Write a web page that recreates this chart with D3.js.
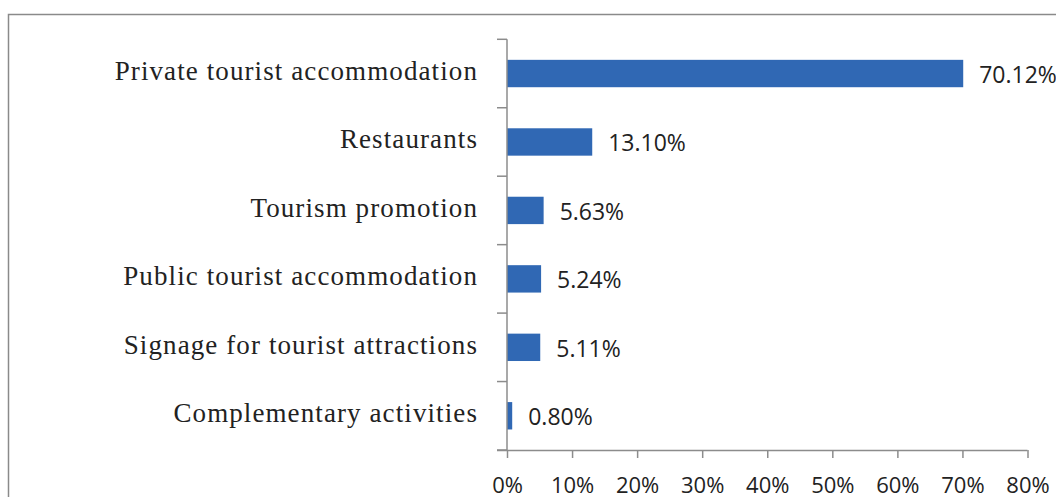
<!DOCTYPE html>
<html>
<head>
<meta charset="utf-8">
<script src="https://cdn.jsdelivr.net/npm/d3@7"></script>
<style>
  html, body { margin: 0; padding: 0; background: #fff; }
  svg { display: block; }
</style>
</head>
<body>
<svg id="chart" width="1056" height="497"></svg>
<script>
// Share of funds by type of tourism investment
const categories = [
  "Private tourist accommodation",
  "Restaurants",
  "Tourism promotion",
  "Public tourist accommodation",
  "Signage for tourist attractions",
  "Complementary activities"
];
const shares = [70.12, 13.10, 5.63, 5.24, 5.11, 0.80];
const valueLabels = ["70.12%", "13.10%", "5.63%", "5.24%", "5.11%", "0.80%"];
const xTicks = [0, 10, 20, 30, 40, 50, 60, 70, 80];

const svg = d3.select("#chart");
const axisColor = "#8c8c8c";
const barColor = "#3068b4";

// frame around the chart area
svg.append("rect")
  .attr("x", 8.5).attr("y", 14.5)
  .attr("width", 1100).attr("height", 600)
  .attr("fill", "none")
  .attr("stroke", "#8a8a8a")
  .attr("stroke-width", 1.5);

const plot = { left: 507, right: 1027.5, top: 39.3, bottom: 450 };

const x = d3.scaleLinear().domain([0, 80]).range([plot.left, plot.right]);
const y = d3.scaleBand().domain(categories).range([plot.top, plot.bottom])
  .paddingInner(0.6).paddingOuter(0.3);

const bandStep = y.step();

// bars
svg.append("g").selectAll("rect")
  .data(categories)
  .join("rect")
  .attr("x", x(0))
  .attr("y", d => y(d))
  .attr("width", (d, i) => x(shares[i]) - x(0))
  .attr("height", y.bandwidth())
  .attr("fill", barColor);

// vertical category axis with ticks on band boundaries
const yAxis = svg.append("g");
yAxis.append("line")
  .attr("x1", plot.left).attr("x2", plot.left)
  .attr("y1", plot.top).attr("y2", plot.bottom)
  .attr("stroke", axisColor).attr("stroke-width", 1.5);
yAxis.selectAll("line.tick")
  .data(d3.range(categories.length + 1))
  .join("line")
  .attr("class", "tick")
  .attr("x1", plot.left - 10).attr("x2", plot.left)
  .attr("y1", i => plot.top + i * bandStep)
  .attr("y2", i => plot.top + i * bandStep)
  .attr("stroke", axisColor).attr("stroke-width", 1.5);

// category labels
svg.append("g").selectAll("text")
  .data(categories)
  .join("text")
  .attr("x", 478)
  .attr("y", d => y(d) + y.bandwidth() / 2 + 6.5)
  .attr("text-anchor", "end")
  .attr("font-family", "'Liberation Serif', serif")
  .attr("font-size", 27)
  .attr("letter-spacing", "1.1px")
  .attr("fill", "#222")
  .text(d => d);

// value labels
svg.append("g").selectAll("text")
  .data(categories)
  .join("text")
  .attr("x", (d, i) => x(shares[i]) + 16)
  .attr("y", d => y(d) + y.bandwidth() / 2 + 9.5)
  .attr("font-family", "'Open Sans', sans-serif")
  .attr("font-size", 23)
  .attr("fill", "#222")
  .text((d, i) => valueLabels[i]);

// horizontal percentage axis
const xAxis = d3.axisBottom(x)
  .tickValues(xTicks)
  .tickFormat(d => d + "%")
  .tickSize(8)
  .tickSizeOuter(0);

const gx = svg.append("g")
  .attr("transform", `translate(0,${plot.bottom})`)
  .call(xAxis);
gx.select(".domain")
  .attr("stroke", axisColor).attr("stroke-width", 1.5)
  .attr("d", `M${plot.left - 10},0.5H${plot.right}`);
gx.selectAll(".tick line").attr("stroke", axisColor).attr("stroke-width", 1.5);
gx.selectAll(".tick text")
  .attr("y", 43).attr("dy", 0)
  .attr("font-family", "'Open Sans', sans-serif")
  .attr("font-size", 22)
  .attr("fill", "#222");
</script>
</body>
</html>
